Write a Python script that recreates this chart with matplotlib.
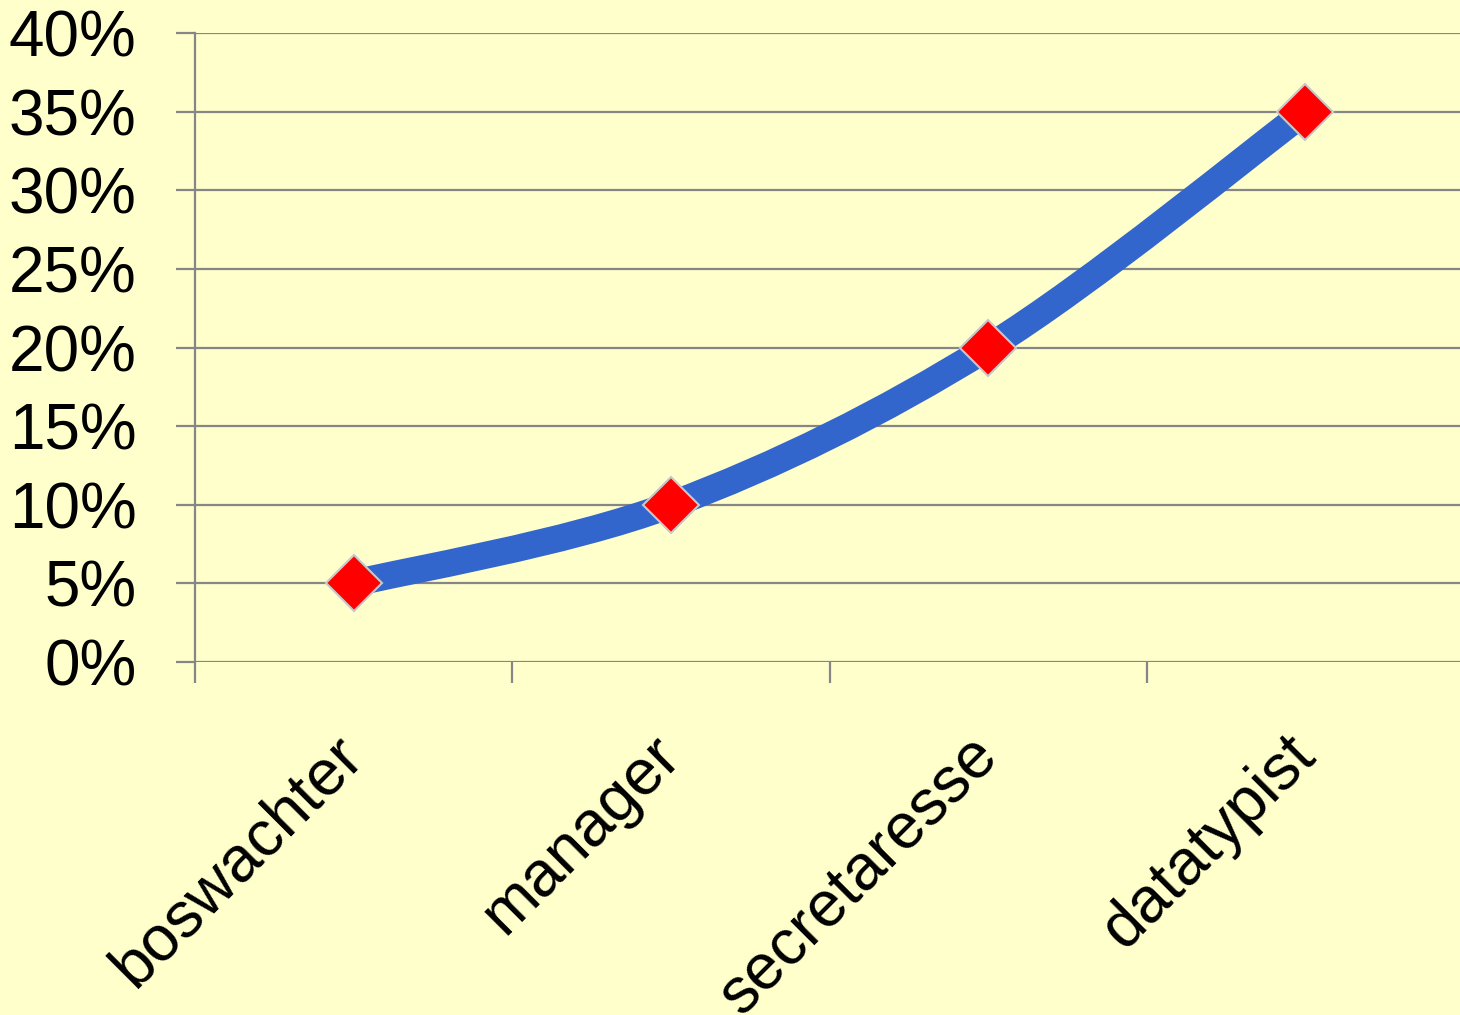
import numpy as np
import matplotlib.pyplot as plt
from matplotlib.path import Path
from matplotlib.patches import PathPatch
from matplotlib.ticker import FixedLocator

# data
beroepen = ["boswachter", "manager", "secretaresse", "datatypist"]
percentages = [5, 10, 20, 35]
y_ticks = [0, 5, 10, 15, 20, 25, 30, 35, 40]
y_labels = ["%d%%" % v for v in y_ticks]

bg = "#FFFFCC"
grid_c = "#868686"
plt.rcParams["font.family"] = ["Liberation Sans", "DejaVu Sans"]

fig = plt.figure(figsize=(14.6, 10.15), dpi=100, facecolor=bg)
W, H = 1460, 1015
ax = fig.add_axes([195 / W, (H - 662) / H, 1269 / W, 629 / H])
ax.set_facecolor(bg)

x = np.arange(len(beroepen))
y = np.array(percentages, dtype=float)

# smooth line (bezier, excel style)
px = np.concatenate([[x[0]], x, [x[-1]]])
py = np.concatenate([[y[0]], y, [y[-1]]])
verts = [(x[0], y[0])]
codes = [Path.MOVETO]
for i in range(1, len(px) - 2):
    c1 = (px[i] + (px[i + 1] - px[i - 1]) / 6, py[i] + (py[i + 1] - py[i - 1]) / 6)
    c2 = (px[i + 1] - (px[i + 2] - px[i]) / 6, py[i + 1] - (py[i + 2] - py[i]) / 6)
    verts += [c1, c2, (px[i + 1], py[i + 1])]
    codes += [Path.CURVE4] * 3
ax.add_patch(PathPatch(Path(verts, codes), facecolor="none", edgecolor="#3366CC",
                       lw=19.5, capstyle="butt", zorder=3))
ax.plot(x, y, linestyle="none", marker="D", markersize=29, markerfacecolor="#FF0000",
        markeredgecolor="#C8C8C8", markeredgewidth=1.5, zorder=4)

ax.set_xlim(-0.5, 3.5)
ax.set_ylim(0, 40)
ax.set_yticks(y_ticks)
ax.set_yticklabels(y_labels, fontsize=46)
ax.yaxis.grid(True, color=grid_c, lw=1.6)
ax.set_axisbelow(True)

ax.set_xticks(x)
ax.set_xticklabels(beroepen, fontsize=46, rotation=45, ha="right", va="center",
                   rotation_mode="anchor")
ax.xaxis.set_minor_locator(FixedLocator([-0.5, 0.5, 1.5, 2.5, 3.5]))
ax.tick_params(axis="x", which="major", length=0, pad=60)
ax.tick_params(axis="x", which="minor", length=15, width=1.6, color=grid_c, direction="out")
ax.tick_params(axis="y", length=14, width=1.6, color=grid_c, pad=28)

for s in ["top", "right", "bottom"]:
    ax.spines[s].set_visible(False)
ax.spines["left"].set_color(grid_c)
ax.spines["left"].set_linewidth(1.6)

fig.savefig("out.png", dpi=100, facecolor=bg)
